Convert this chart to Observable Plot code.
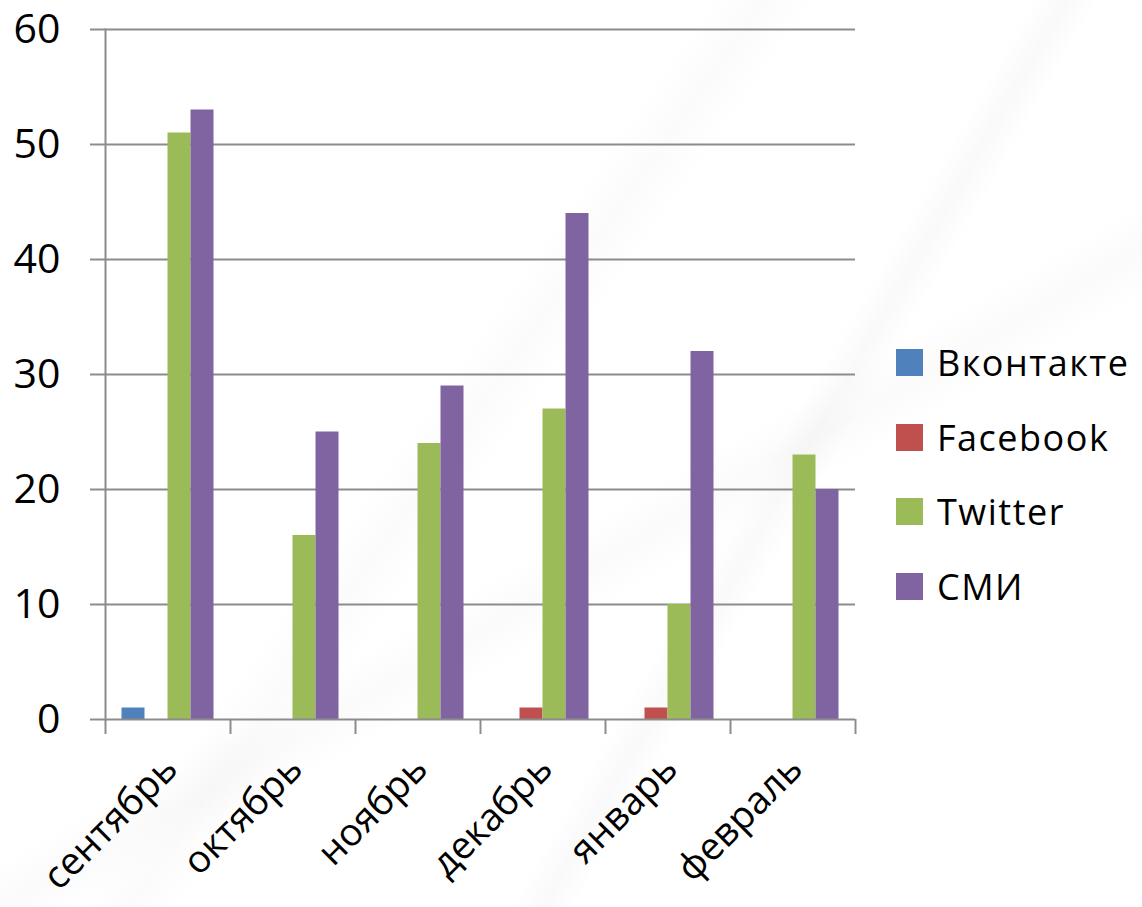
<!DOCTYPE html>
<html>
<head>
<meta charset="utf-8">
<script src="https://cdn.jsdelivr.net/npm/d3@7"></script>
<script src="https://cdn.jsdelivr.net/npm/@observablehq/plot@0.6"></script>
<style>
  html, body { margin: 0; padding: 0; background: #fff; }
  body { width: 1142px; height: 907px; position: relative; overflow: hidden; font-family: "Open Sans", sans-serif;
    background:
      linear-gradient(120deg, rgba(255,255,255,0) 62%, rgba(200,200,200,0.10) 64%, rgba(255,255,255,0) 66%),
      linear-gradient(125deg, rgba(255,255,255,0) 40%, rgba(200,200,200,0.07) 43%, rgba(255,255,255,0) 46%),
      linear-gradient(150deg, rgba(255,255,255,0) 55%, rgba(200,200,200,0.08) 58%, rgba(255,255,255,0) 61%),
      #fff; }
  #chart { position: absolute; left: 0; top: 0; }
  #legend { position: absolute; left: 896px; top: 340px; }
  .row { display: flex; align-items: center; height: 45px; margin-bottom: 29.5px; }
  .sw { width: 27px; height: 27px; margin-right: 14px; }
  .lb { font-size: 36px; letter-spacing: 1.5px; color: #000; line-height: 45px; }
</style>
</head>
<body>
<div id="chart"></div>
<div id="legend"></div>
<script>
const months = ["сентябрь", "октябрь", "ноябрь", "декабрь", "январь", "февраль"];
const seriesNames = ["Вконтакте", "Facebook", "Twitter", "СМИ"];
const colors = ["#4F81BD", "#C0504D", "#9BBB59", "#8064A2"];
const vkontakte = [1, 0, 0, 0, 0, 0];
const facebook  = [0, 0, 0, 1, 1, 0];
const twitter   = [51, 16, 24, 27, 10, 23];
const smi       = [53, 25, 29, 44, 32, 20];
const yTicks = [0, 10, 20, 30, 40, 50, 60];

const seriesValues = [vkontakte, facebook, twitter, smi];
const data = [];
months.forEach((m, i) => {
  seriesNames.forEach((s, j) => data.push({month: m, series: s, value: seriesValues[j][i]}));
});

const grid = "#8c8c8c";
const chart = Plot.plot({
  width: 1142,
  height: 907,
  marginLeft: 105,
  marginRight: 287,
  marginTop: 29,
  marginBottom: 188,
  style: {fontFamily: "Open Sans, sans-serif", background: "transparent", color: "#000"},
  facet: {data, x: "month"},
  fx: {domain: months, paddingInner: 0, paddingOuter: 0, round: false, label: null, axis: null},
  x: {domain: seriesNames, paddingInner: 0, paddingOuter: 0.717, round: false, axis: null},
  y: {domain: [0, 60], axis: null},
  color: {domain: seriesNames, range: colors},
  marks: [
    Plot.ruleY(yTicks.slice(1), {stroke: grid, strokeWidth: 2}),
    Plot.barY(data, {x: "series", y: "value", fill: "series"}),
    Plot.ruleY([0], {stroke: grid, strokeWidth: 2}),
    Plot.frame({anchor: "left", stroke: grid, strokeWidth: 2, facetAnchor: "left"}),
    Plot.axisY({ticks: yTicks, tickSize: 15, tickPadding: 30, fontSize: 41, stroke: grid, strokeWidth: 2, fill: "#000", label: null, facetAnchor: "left"}),
    Plot.axisFx({anchor: "bottom", tickSize: 15, stroke: grid, strokeWidth: 2, tickFormat: () => "", dx: -62.5, label: null}),
    Plot.axisFx({anchor: "bottom", ticks: [months[months.length - 1]], tickSize: 15, stroke: grid, strokeWidth: 2, tickFormat: () => "", dx: 62.5, label: null}),
    Plot.axisFx({anchor: "bottom", tickSize: 0, tickPadding: 43, tickRotate: -45, fontSize: 38, fill: "#000", dx: 3, label: null})
  ]
});
document.getElementById("chart").appendChild(chart);

const legend = document.getElementById("legend");
seriesNames.forEach((s, i) => {
  const row = document.createElement("div");
  row.className = "row";
  const sw = document.createElement("div");
  sw.className = "sw";
  sw.style.background = colors[i];
  const lb = document.createElement("span");
  lb.className = "lb";
  lb.textContent = s;
  row.appendChild(sw);
  row.appendChild(lb);
  legend.appendChild(row);
});
</script>
</body>
</html>
